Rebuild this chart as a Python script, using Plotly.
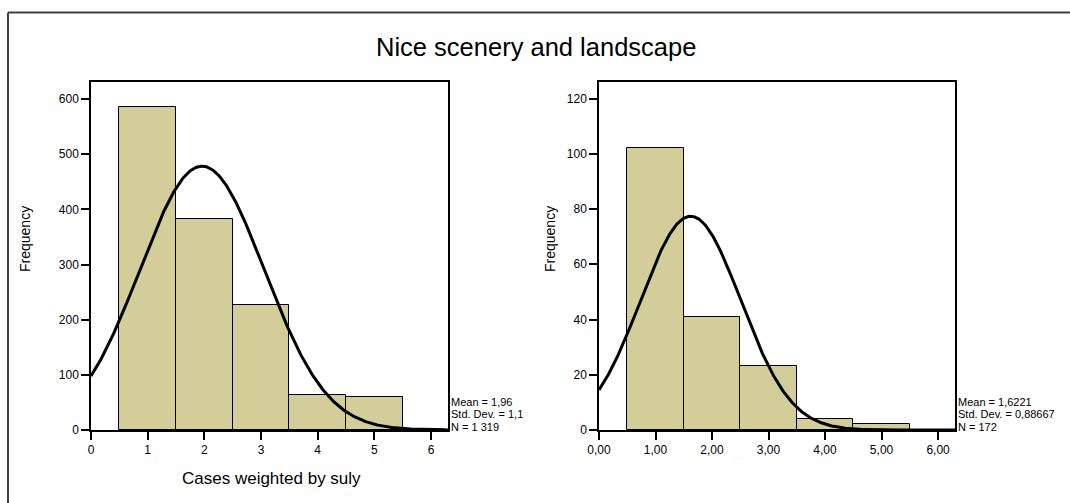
import numpy as np
import plotly.graph_objects as go

# Histogram bins (centres) and frequencies
bin_centers = [1, 2, 3, 4, 5]
freq_all = [586, 383, 227, 64, 60]
freq_sub = [102, 41, 23, 4, 2]

# Summary statistics shown beside each panel
mean_all, sd_all, n_all = 1.96, 1.1, 1319
mean_sub, sd_sub, n_sub = 1.6221, 0.88667, 172
stats_all = ["Mean = 1,96", "Std. Dev. = 1,1", "N = 1 319"]
stats_sub = ["Mean = 1,6221", "Std. Dev. = 0,88667", "N = 172"]

# Tick labels
x_ticks = [0, 1, 2, 3, 4, 5, 6]
x_labels_all = ["0", "1", "2", "3", "4", "5", "6"]
x_labels_sub = ["0,00", "1,00", "2,00", "3,00", "4,00", "5,00", "6,00"]
y_ticks_all = [0, 100, 200, 300, 400, 500, 600]
y_ticks_sub = [0, 20, 40, 60, 80, 100, 120]

W, H = 1070, 503
BAR_FILL = "rgb(211,206,153)"
FONT = "Liberation Sans, Arial, sans-serif"


def px_x(v):
    return v / W


def px_y(v):
    return 1 - v / H


def normal_curve(mean, sd, n, xs):
    return n * 1.0 / (sd * np.sqrt(2 * np.pi)) * np.exp(-((xs - mean) ** 2) / (2 * sd ** 2))


xs = np.linspace(0, 6.3, 400)

fig = go.Figure()

# Left panel
fig.add_trace(go.Bar(x=bin_centers, y=freq_all, width=1,
                     marker=dict(color=BAR_FILL, line=dict(color="black", width=1)),
                     xaxis="x", yaxis="y", showlegend=False, hoverinfo="skip"))
fig.add_trace(go.Scatter(x=xs, y=normal_curve(mean_all, sd_all, n_all, xs), mode="lines",
                         line=dict(color="black", width=3), xaxis="x", yaxis="y",
                         showlegend=False, hoverinfo="skip"))

# Right panel
fig.add_trace(go.Bar(x=bin_centers, y=freq_sub, width=1,
                     marker=dict(color=BAR_FILL, line=dict(color="black", width=1)),
                     xaxis="x2", yaxis="y2", showlegend=False, hoverinfo="skip"))
fig.add_trace(go.Scatter(x=xs, y=normal_curve(mean_sub, sd_sub, n_sub, xs), mode="lines",
                         line=dict(color="black", width=3), xaxis="x2", yaxis="y2",
                         showlegend=False, hoverinfo="skip"))

axis_common = dict(showgrid=False, zeroline=False, showline=True, linecolor="black",
                   linewidth=1.5, mirror=True, ticks="outside", ticklen=8, tickwidth=1.5,
                   tickcolor="black", tickfont=dict(size=12, color="black", family=FONT))

y_bottom, y_top = px_y(430), px_y(82)

fig.update_layout(
    width=W, height=H,
    margin=dict(l=0, r=0, t=0, b=0, autoexpand=False),
    paper_bgcolor="white", plot_bgcolor="white",
    font=dict(family=FONT, color="black"),
    bargap=0,
    xaxis=dict(domain=[px_x(91), px_x(448)], range=[0, 6.3], tickvals=x_ticks,
               ticktext=x_labels_all, anchor="y", **axis_common),
    yaxis=dict(domain=[y_bottom, y_top], range=[0, 631], tickvals=y_ticks_all,
               anchor="x", **axis_common),
    xaxis2=dict(domain=[px_x(599), px_x(955)], range=[0, 6.3], tickvals=x_ticks,
                ticktext=x_labels_sub, anchor="y2", **axis_common),
    yaxis2=dict(domain=[y_bottom, y_top], range=[0, 126], tickvals=y_ticks_sub,
                anchor="x2", **axis_common),
)

# Outer frame around the whole graphic
fig.add_shape(type="line", xref="paper", yref="paper", x0=px_x(8), x1=1.0,
              y0=px_y(12.5), y1=px_y(12.5), line=dict(color="#404040", width=2))
fig.add_shape(type="line", xref="paper", yref="paper", x0=px_x(8), x1=px_x(8),
              y0=px_y(12.5), y1=0, line=dict(color="#404040", width=2))

annotations = [
    dict(text="Nice scenery and landscape", x=px_x(536), y=px_y(47), xref="paper", yref="paper",
         showarrow=False, font=dict(size=25.5, family=FONT, color="black"),
         xanchor="center", yanchor="middle"),
    dict(text="Cases weighted by suly", x=px_x(271), y=px_y(478), xref="paper", yref="paper",
         showarrow=False, font=dict(size=17, family=FONT, color="black"),
         xanchor="center", yanchor="middle"),
    dict(text="Frequency", x=px_x(25), y=px_y(239), xref="paper", yref="paper",
         showarrow=False, textangle=-90, font=dict(size=14, family=FONT, color="black"),
         xanchor="center", yanchor="middle"),
    dict(text="Frequency", x=px_x(550), y=px_y(239), xref="paper", yref="paper",
         showarrow=False, textangle=-90, font=dict(size=14, family=FONT, color="black"),
         xanchor="center", yanchor="middle"),
    dict(text="· · ·", x=px_x(737), y=px_y(458), xref="paper", yref="paper",
         showarrow=False, font=dict(size=6, family=FONT, color="#b0b0b0"),
         xanchor="center", yanchor="middle"),
]

# Summary statistics, one line per annotation
for x0, lines in ((450, stats_all), (957, stats_sub)):
    for i, line in enumerate(lines):
        annotations.append(dict(text=line, x=px_x(x0), y=px_y(401.5 + 12.5 * i),
                                xref="paper", yref="paper", showarrow=False,
                                font=dict(size=11, family=FONT, color="black"),
                                xanchor="left", yanchor="middle", borderpad=0))

fig.update_layout(annotations=annotations)

fig.write_html("out.html")
